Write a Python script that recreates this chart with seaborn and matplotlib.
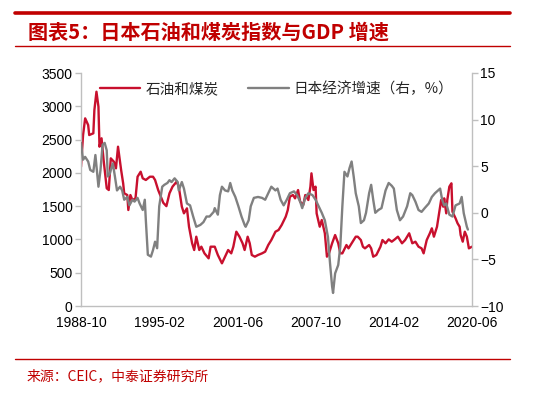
import pandas as pd
import matplotlib
matplotlib.use('Agg')
import matplotlib.pyplot as plt
import seaborn as sns

# 石油和煤炭指数 (left axis)
coal_dates = [
    '1988-10', '1988-12', '1989-02', '1989-05', '1989-06', '1989-10', '1989-11', '1990-01',
    '1990-03', '1990-04', '1990-06', '1990-08', '1990-11', '1991-01', '1991-03', '1991-06',
    '1991-08', '1991-10', '1992-01', '1992-03', '1992-04', '1992-07', '1992-08', '1992-10',
    '1992-12', '1993-03', '1993-05', '1993-08', '1993-10', '1994-01', '1994-05', '1994-08',
    '1994-10', '1995-01', '1995-03', '1995-06', '1995-09', '1995-12', '1996-03', '1996-07',
    '1996-09', '1996-12', '1997-02', '1997-05', '1997-07', '1997-10', '1997-12', '1998-02',
    '1998-05', '1998-07', '1998-10', '1999-02', '1999-04', '1999-08', '1999-11', '2000-03',
    '2000-06', '2000-09', '2000-12', '2001-02', '2001-05', '2001-08', '2001-11', '2002-01',
    '2002-04', '2002-06', '2002-08', '2002-11', '2003-02', '2003-06', '2003-09', '2003-12',
    '2004-03', '2004-07', '2004-10', '2005-01', '2005-05', '2005-07', '2005-09', '2005-12',
    '2006-02', '2006-05', '2006-07', '2006-10', '2006-12', '2007-03', '2007-05', '2007-06',
    '2007-08', '2007-10', '2007-11', '2008-02', '2008-04', '2008-07', '2008-09', '2008-11',
    '2009-02', '2009-05', '2009-08', '2009-10', '2009-12', '2010-04', '2010-06', '2010-09',
    '2011-01', '2011-03', '2011-06', '2011-08', '2011-10', '2012-02', '2012-04', '2012-06',
    '2012-09', '2013-01', '2013-03', '2013-06', '2013-09', '2013-12', '2014-03', '2014-06',
    '2014-10', '2015-01', '2015-05', '2015-08', '2015-11', '2016-02', '2016-05', '2016-07',
    '2016-10', '2017-01', '2017-03', '2017-05', '2017-08', '2017-09', '2017-12', '2018-02',
    '2018-03', '2018-05', '2018-06', '2018-08', '2018-10', '2018-11', '2019-02', '2019-04',
    '2019-06', '2019-07', '2019-09', '2019-11', '2020-01', '2020-03', '2020-06',
]
coal_values = [
    2090, 2568, 2819, 2718, 2568, 2594, 2944, 3219,
    2994, 2393, 2519, 2193, 1768, 1742, 2218, 2167,
    2068, 2393, 2043, 1843, 1693, 1667, 1442, 1667,
    1592, 1617, 1942, 2017, 1918, 1893, 1942, 1942,
    1893, 1742, 1667, 1550, 1500, 1693, 1793, 1868,
    1793, 1492, 1392, 1467, 1191, 942, 841, 1041,
    841, 891, 791, 716, 891, 891, 766, 641,
    741, 841, 791, 891, 1116, 1041, 942, 841,
    1041, 942, 766, 741, 766, 791, 816, 916,
    991, 1116, 1142, 1217, 1342, 1442, 1642, 1667,
    1617, 1742, 1567, 1517, 1667, 1592, 1793, 1993,
    1742, 1793, 1392, 1191, 1292, 1092, 741, 791,
    942, 1066, 942, 791, 791, 916, 866, 942,
    1041, 1041, 991, 891, 866, 916, 866, 741,
    766, 891, 991, 942, 1001, 966, 1001, 1041,
    942, 991, 1092, 942, 966, 891, 866, 791,
    991, 1092, 1167, 1041, 1191, 1292, 1592, 1492,
    1617, 1392, 1592, 1793, 1843, 1417, 1317, 1242,
    1191, 1066, 966, 1116, 1041, 866, 891,
]

# 日本经济增速 (right axis, %)
gdp_dates = [
    '1988-10', '1988-12', '1989-02', '1989-05', '1989-07', '1989-10', '1989-12', '1990-02',
    '1990-03', '1990-05', '1990-07', '1990-09', '1990-11', '1990-12', '1991-02', '1991-03',
    '1991-05', '1991-07', '1991-09', '1991-12', '1992-02', '1992-04', '1992-07', '1992-09',
    '1992-12', '1993-02', '1993-05', '1993-07', '1993-10', '1993-12', '1994-01', '1994-03',
    '1994-06', '1994-08', '1994-10', '1994-12', '1995-02', '1995-05', '1995-07', '1995-10',
    '1995-12', '1996-02', '1996-05', '1996-08', '1996-09', '1996-12', '1997-02', '1997-05',
    '1997-08', '1997-11', '1998-02', '1998-06', '1998-09', '1998-12', '1999-03', '1999-07',
    '1999-08', '1999-11', '2000-01', '2000-03', '2000-06', '2000-09', '2000-11', '2001-01',
    '2001-04', '2001-07', '2001-10', '2002-01', '2002-02', '2002-05', '2002-07', '2002-10',
    '2003-02', '2003-06', '2003-09', '2003-12', '2004-03', '2004-07', '2004-09', '2004-12',
    '2005-03', '2005-06', '2005-09', '2006-01', '2006-04', '2006-07', '2006-09', '2006-12',
    '2007-03', '2007-07', '2007-10', '2008-01', '2008-04', '2008-07', '2008-10', '2008-12',
    '2009-02', '2009-03', '2009-05', '2009-08', '2009-10', '2009-12', '2010-02', '2010-05',
    '2010-07', '2010-09', '2010-11', '2011-01', '2011-04', '2011-06', '2011-09', '2011-11',
    '2012-02', '2012-04', '2012-06', '2012-08', '2012-11', '2013-02', '2013-06', '2013-09',
    '2013-12', '2014-02', '2014-05', '2014-08', '2014-11', '2015-03', '2015-06', '2015-08',
    '2015-11', '2016-02', '2016-05', '2016-08', '2016-12', '2017-03', '2017-06', '2017-09',
    '2017-11', '2018-01', '2018-03', '2018-05', '2018-08', '2018-11', '2019-02', '2019-06',
    '2019-08', '2019-10', '2020-01', '2020-02',
]
gdp_values = [
    7.5, 5.7, 6.0, 5.5, 4.6, 4.4, 6.2, 3.9,
    2.8, 4.6, 7.3, 7.5, 6.7, 3.9, 4.2, 4.6,
    5.3, 3.9, 2.4, 2.8, 2.4, 1.4, 1.7, 0.8,
    1.4, 1.2, 1.6, 1.0, 0.3, 1.4, -0.8, -4.5,
    -4.7, -4.0, -3.1, -3.8, 0.7, 2.8, 3.0, 3.2,
    3.5, 3.3, 3.7, 3.3, 2.4, 3.3, 2.6, 1.0,
    0.8, -0.4, -1.5, -1.3, -1.0, -0.4, -0.4, 0.1,
    0.5, -0.2, 1.9, 2.8, 2.4, 2.3, 3.2, 2.4,
    1.7, 0.7, -0.4, -1.3, -1.5, -0.8, 0.7, 1.6,
    1.7, 1.6, 1.4, 2.1, 2.8, 2.4, 2.6, 1.4,
    0.8, 1.4, 2.1, 2.3, 1.9, 1.2, 0.5, 1.6,
    2.1, 1.9, 1.4, 0.7, 0.0, -0.8, -2.6, -5.4,
    -7.9, -8.6, -6.5, -5.6, -3.6, 0.7, 4.4, 3.9,
    4.8, 5.5, 3.9, 2.1, 0.7, -1.1, -0.8, 0.0,
    2.1, 3.0, 1.4, 0.0, 0.3, 0.5, 2.4, 3.2,
    2.9, 2.6, 0.3, -0.8, -0.4, 0.7, 2.1, 1.9,
    1.2, 0.3, 0.1, 0.5, 1.0, 1.7, 2.1, 2.4,
    2.6, 1.4, 0.8, 1.0, -0.2, -0.4, 0.8, 1.0,
    1.7, -0.05, -1.5, -1.8,
]

tick_labels = ['1988-10', '1995-02', '2001-06', '2007-10', '2014-02', '2020-06']

title_text = '图表5：日本石油和煤炭指数与GDP 增速'
source_text = '来源：CEIC，中泰证券研究所'
coal_label = '石油和煤炭'
gdp_label = '日本经济增速（右，%）'

RED = '#C8102E'
GRAY = '#808080'
HEAD = '#C00000'
AXIS = '#BFBFBF'

sns.set_style('white')
plt.rcParams['font.family'] = ['Liberation Sans', 'Noto Sans CJK SC', 'DejaVu Sans']
cjk = ['Noto Sans CJK SC', 'DejaVu Sans']

coal_df = pd.DataFrame({'date': pd.to_datetime(coal_dates), 'value': coal_values})
gdp_df = pd.DataFrame({'date': pd.to_datetime(gdp_dates), 'value': gdp_values})

fig = plt.figure(figsize=(5.34, 3.97), dpi=100)
ax = fig.add_axes([81 / 534, 1 - 306 / 397, 391 / 534, 233 / 397])
ax2 = ax.twinx()

sns.lineplot(data=coal_df, x='date', y='value', ax=ax, color=RED, linewidth=1.7, label=coal_label, legend=False)
sns.lineplot(data=gdp_df, x='date', y='value', ax=ax2, color=GRAY, linewidth=1.7, label=gdp_label, legend=False)

ticks = pd.to_datetime(tick_labels)
ax.set_xlim(ticks[0], ticks[-1])
ax.set_xticks(ticks)
ax.set_xticklabels(tick_labels)
ax.set_ylim(0, 3500)
ax.set_yticks(range(0, 3501, 500))
ax2.set_ylim(-10, 15)
ax2.set_yticks(range(-10, 16, 5))
ax2.set_yticklabels([str(v).replace('-', '\u2212') for v in range(-10, 16, 5)])

for a in (ax, ax2):
    a.set_xlabel('')
    a.set_ylabel('')
    a.grid(False)
    a.spines['top'].set_visible(False)
    for s in ('left', 'right', 'bottom'):
        a.spines[s].set_color(AXIS)
        a.spines[s].set_linewidth(1.0)
    a.tick_params(axis='both', labelsize=10, colors='black', length=4, width=1, direction='out', pad=2)
    a.tick_params(axis='both', color=AXIS)
ax.spines['right'].set_visible(False)
ax2.spines['left'].set_visible(False)
ax2.spines['bottom'].set_visible(False)
ax.tick_params(axis='x', pad=3)

h1, l1 = ax.get_legend_handles_labels()
h2, l2 = ax2.get_legend_handles_labels()
leg = ax.legend(h1 + h2, l1 + l2, loc='upper center', bbox_to_anchor=(0.5, 1.02), ncol=2,
                frameon=False, prop={'family': cjk, 'size': 10.5}, handlelength=2.8,
                columnspacing=2.0, handletextpad=0.35)

# header / footer decorations
fig.add_artist(plt.Line2D([15 / 534, 510 / 534], [1 - 13 / 397] * 2, color=HEAD, linewidth=2.6))
fig.add_artist(plt.Line2D([15 / 534, 510 / 534], [1 - 46 / 397] * 2, color=HEAD, linewidth=1.0))
fig.add_artist(plt.Line2D([15 / 534, 510 / 534], [1 - 359 / 397] * 2, color=HEAD, linewidth=1.0))
fig.text(28 / 534, 1 - 32 / 397, title_text, color=HEAD, fontsize=14.5, fontweight='bold',
         style='italic', family=cjk, va='center', ha='left')
fig.text(27 / 534, 1 - 376 / 397, source_text, color=HEAD, fontsize=10, family=cjk,
         va='center', ha='left')

fig.savefig('out.png', dpi=100)
